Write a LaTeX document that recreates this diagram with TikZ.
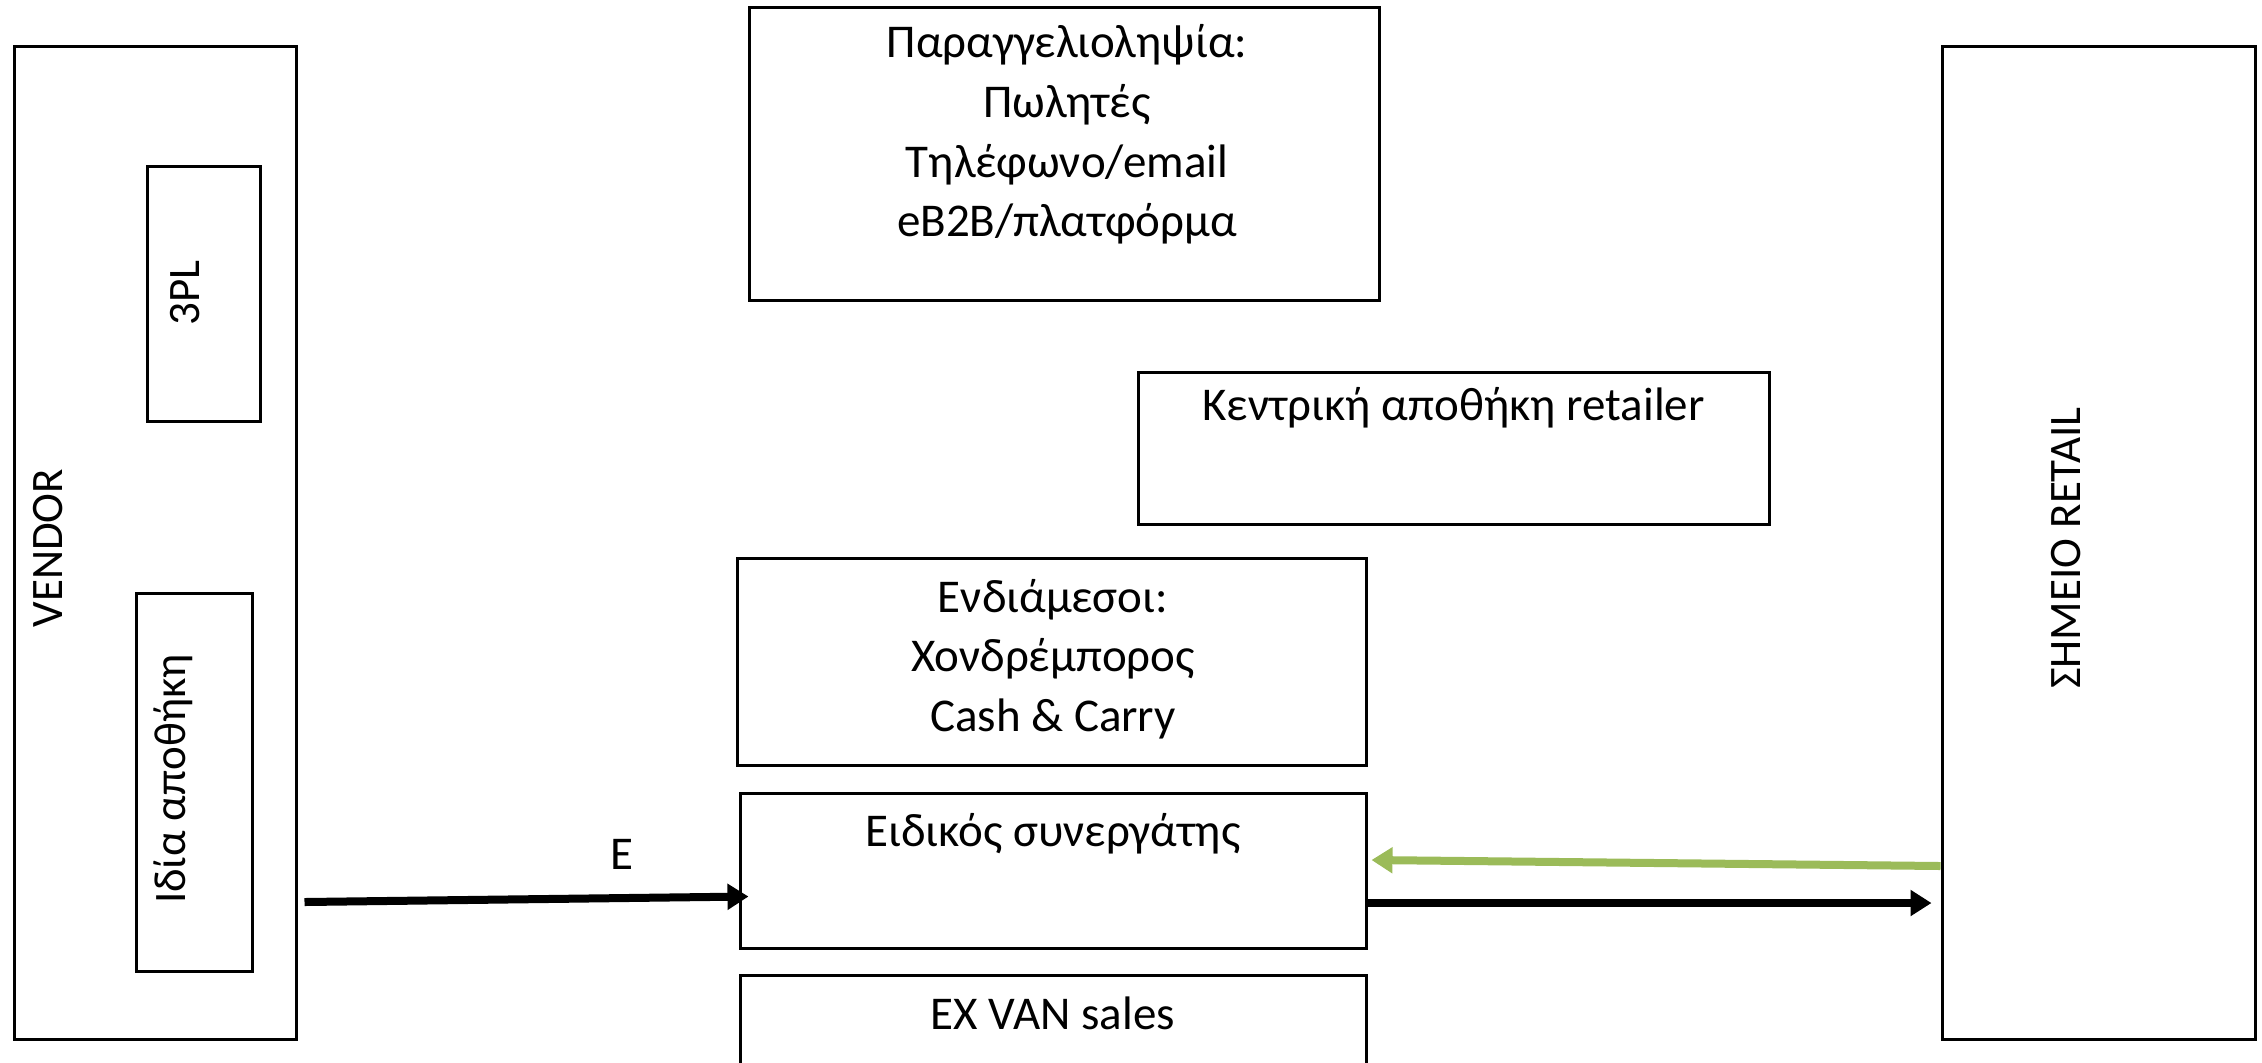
\documentclass[tikz,border=0pt]{standalone}
\usepackage{fontspec}
\setmainfont{Carlito}
\usetikzlibrary{arrows.meta}

\tikzset{
	box/.style={draw, line width=1.5pt, inner sep=0pt},
	txt/.style={font=\fontsize{23.5}{29.8}\selectfont, align=center, inner sep=0pt},
	vtxt/.style={font=\fontsize{22.5}{27}\selectfont, rotate=90, inner sep=0pt},
	flow/.style={line width=4pt, -{Triangle[length=10.5pt,width=12.5pt]}},
}
\definecolor{leaf}{HTML}{9BBB59}

\begin{document}
\begin{tikzpicture}[x=0.5pt, y=-0.5pt]
	\useasboundingbox (0,0) rectangle (2262,1062);
	
	% vendor side
	\node[box, minimum width=141pt, minimum height=496.5pt] (vendor) at (155,542.5) {};
	\node[vtxt] (vendortxt) at (48,548) {VENDOR};
	\node[box, minimum width=56.5pt, minimum height=127.5pt] (tpl) at (203.5,293.5) {};
	\node[vtxt] (tpltxt) at (185,293) {3PL};
	\node[box, minimum width=58pt, minimum height=189pt] (own) at (194,782) {};
	\node[vtxt] (owntxt) at (173,779) {Ιδία αποθήκη};
	
	% middle
	\node[box, minimum width=315pt, minimum height=146.5pt] (orders) at (1064,153.5) {};
	\node[txt] (orderstxt) at (1067,134.5) {Παραγγελιοληψία:\\ Πωλητές\\ Τηλέφωνο/email\\ eB2B/πλατφόρμα};
	\node[box, minimum width=315.5pt, minimum height=76pt] (central) at (1453.5,448) {};
	\node[txt] (centraltxt) at (1453.5,408) {Κεντρική αποθήκη retailer};
	\node[box, minimum width=314.5pt, minimum height=103.5pt] (mid) at (1051.5,661.5) {};
	\node[txt] (midtxt) at (1053,659) {Ενδιάμεσοι:\\ Χονδρέμπορος\\ Cash \& Carry};
	\node[box, minimum width=313pt, minimum height=77.5pt] (partner) at (1053,870.5) {};
	\node[txt] (partnertxt) at (1053,834) {Ειδικός συνεργάτης};
	\node[box, minimum width=313pt, minimum height=50pt] (van) at (1053,1025) {};
	\node[txt] (vantxt) at (1053,1013) {EX VAN sales};
	
	% retail side
	\node[box, minimum width=156.5pt, minimum height=496.5pt] (retail) at (2098.5,542.5) {};
	\node[vtxt] (retailtxt) at (2066,548) {ΣΗΜΕΙΟ RETAIL};
	
	\node[txt] (E) at (622,854) {E};
	
	\draw[flow] ([xshift=3.5pt, yshift=-15.75pt]vendor.east |- partner.center) -- ([xshift=5pt, yshift=-13pt]partner.west);
	\draw[flow, leaf] ([yshift=2.25pt]retail.west |- partner.center) -- ([xshift=2pt, yshift=5.25pt]partner.east);
	\draw[flow] ([yshift=-16.25pt]partner.east) -- ([xshift=-4.5pt, yshift=-16.25pt]retail.west |- partner.center);
\end{tikzpicture}
\end{document}
